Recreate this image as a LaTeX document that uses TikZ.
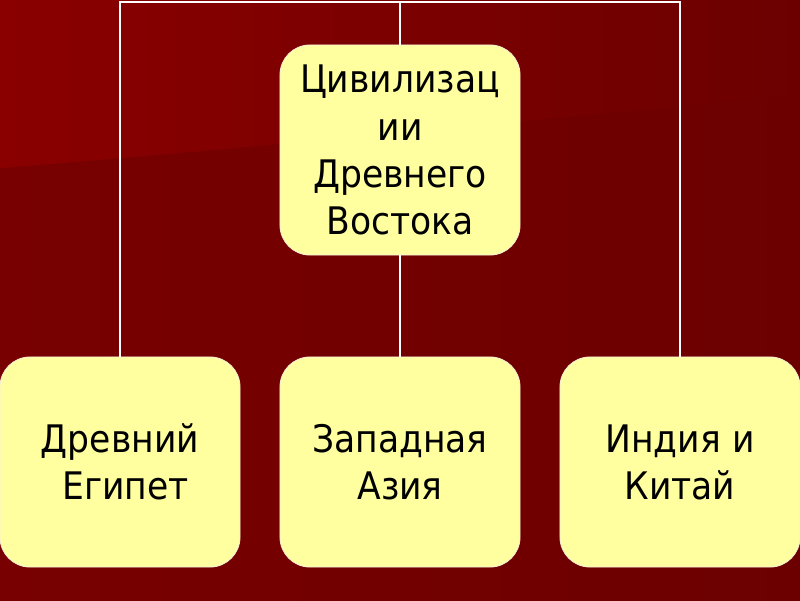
\documentclass[tikz,border=0pt]{standalone}
\usepackage{fontspec}
\newfontfamily\boxfont[FakeStretch=0.91]{DejaVu Sans}
\usepackage{tikz}
\usetikzlibrary{positioning}
\definecolor{bghigh}{HTML}{8A0000}
\definecolor{bglow}{HTML}{780000}
\definecolor{bgright}{HTML}{6C0000}
\definecolor{paper}{HTML}{FFFFA0}
\definecolor{rim}{HTML}{F4F0D8}
\tikzset{leafbox/.style={draw=rim,fill=paper,line width=.6pt,rounded corners=.75cm,minimum width=6cm,minimum height=5.25cm,inner sep=2pt,align=center,font=\boxfont\fontsize{27}{33.5}\selectfont},linkline/.style={draw=white,line width=1pt}}

\begin{document}
\begin{tikzpicture}[x=0.025cm,y=-0.025cm]
\useasboundingbox (0,0) rectangle (800,600);
% background
\shade[left color=bglow,right color=bgright] (0,0) rectangle (800,600);
\shade[left color=bghigh,right color=bgright] (0,0) -- (800,0) -- (800,95) .. controls (520,120) and (260,148) .. (0,168) -- cycle;
% boxes
\node[leafbox] (root) at (400,150) {Цивилизац\\ии\\Древнего\\Востока};
\node[leafbox] (egypt) at (120,462) {Древний\\\ Египет};
\node[leafbox] (asia) at (400,462) {Западная\\Азия};
\node[leafbox] (china) at (680,462) {Индия и\\Китай};
% links
\coordinate (hub) at (400,2);
\draw[linkline] (root.north) -- (hub);
\draw[linkline] (egypt.north) -- (egypt.north |- hub) -- (china.north |- hub) -- (china.north);
\draw[linkline] (root.south) -- (asia.north);
\end{tikzpicture}
\end{document}
